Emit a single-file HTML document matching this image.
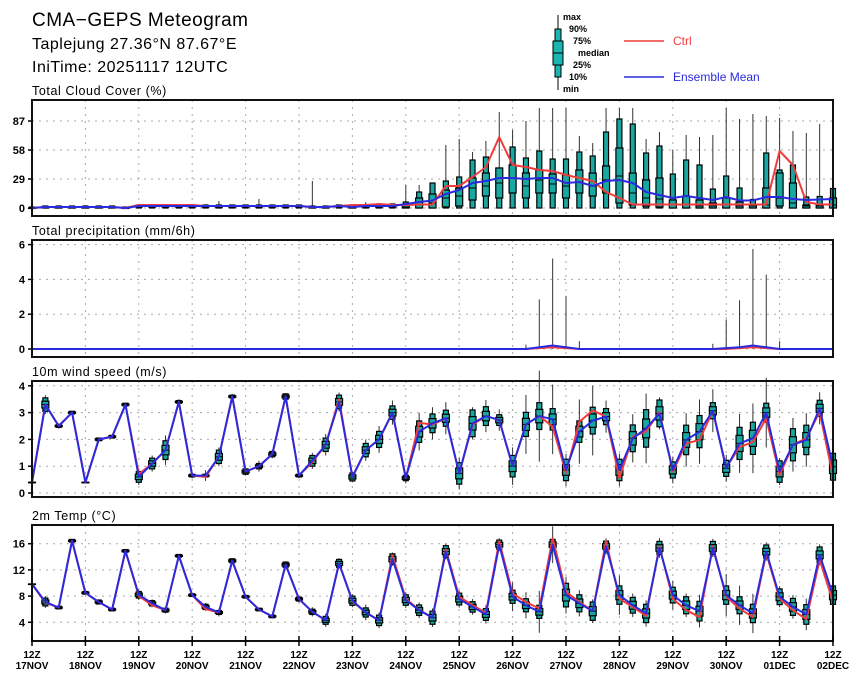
<!DOCTYPE html>
<html><head><meta charset="utf-8"><style>
body{margin:0;background:#fff;}
svg{display:block;font-family:"Liberation Sans",sans-serif;}
</style></head><body>
<svg id="chart" width="860" height="679" viewBox="0 0 860 679" xmlns="http://www.w3.org/2000/svg">
<rect width="860" height="679" fill="#fff"/>
<text x="32" y="26" font-size="19" fill="#000" letter-spacing="0.5">CMA−GEPS Meteogram</text>
<text x="32" y="49" font-size="16" fill="#000" letter-spacing="0.5">Taplejung 27.36°N 87.67°E</text>
<text x="32" y="72" font-size="16" fill="#000" letter-spacing="0.5">IniTime: 20251117 12UTC</text>
<g font-size="9" font-weight="bold">
<line x1="558" y1="15" x2="558" y2="90" stroke="#000" stroke-width="1"/>
<rect x="555" y="29" width="6" height="48" fill="#19b5b0" stroke="#000"/>
<rect x="553" y="41" width="10" height="24" fill="#19b5b0" stroke="#000"/>
<line x1="553" y1="53" x2="563" y2="53" stroke="#000"/>
<text x="563" y="20">max</text><text x="569" y="32">90%</text><text x="573" y="44">75%</text>
<text x="578" y="56">median</text><text x="573" y="68">25%</text><text x="569" y="80">10%</text><text x="563" y="92">min</text>
</g>
<g><line x1="624" y1="41" x2="664" y2="41" stroke="#f03c3c" stroke-width="1.5"/><text x="673" y="45" font-size="12" fill="#f03c3c">Ctrl</text></g>
<g><line x1="624" y1="77" x2="664" y2="77" stroke="#2a2ae0" stroke-width="1.5"/><text x="673" y="81" font-size="12" fill="#2a2ae0">Ensemble Mean</text></g>
<g id="plots"></g>
</svg>
<script>
// ---- data (61 six-hourly steps from 12Z 17NOV) ----
const dayLabels=["17NOV","18NOV","19NOV","20NOV","21NOV","22NOV","23NOV","24NOV","25NOV","26NOV","27NOV","28NOV","29NOV","30NOV","01DEC","02DEC"];
const cloudMean=[0,1,1,1,1,1,1,0,2,2,2,2,2,2,2,2,2,2,2,2,2,1,1,2,1,2,2,2,4,6,7.5,14,18,25,27,30,30,29,30,30,25,26,22,27,28,25,16,13,10,12,10,8,11,7.5,7.5,11,11,9,8,8.5,9];
const cloudCtrl=[0,1,1,1,1,1,1,0,3,3,3,3,3,2,2,2,2,2,2,2,2,1,1,2,3,3,4,3,3,3.5,3.5,22,22,31,41,71,43,41,38,37,33,30,27,16,10,3.5,3.5,3.5,3.5,3.5,3.5,3.5,3.5,3.5,3.5,3.5,57,43,6,3.5,3.5];
const cloudP90=[1,2,2,2,2,2,2,1,3,3,3,3,3,3,3,3,3,3,3,3,3,2,2,3,3,3,4,4,6,16,25,27,31,48,51,40,61,50,57,49,49,56,52,76,89,84,55,62,34,48,43,19,32,20,8.5,55,38,43,11,11.5,19.5];
const cloudMax=[1,2,2,2,2,2,2,1,3,3,3,3,3,3,7,3,3,9,3,3,3,27,2,3,3,6,4,4,23,23,25,63,69,56,67,96,78,87,100,100,100,72,65,100,100,100,69,76,58,73,71,73,100,89,94,92,90,77,75,84,60];
const cloudQ75=[0,1,1,1,1,1,1,0,2,2,2,2,2,2,2,2,2,2,2,2,2,1,1,2,2,2,3,3,3,10,14,18,20,30,35,40,43,35,38,34,33,38,35,42,60,35,28,30,8,12,8,5,10,6,3,20,35,25,3,3,10];
const cloudMed=[0,1,1,1,1,1,1,0,2,2,2,2,2,2,2,2,2,2,2,2,2,1,1,2,1,2,2,2,1,3,5,10,12,20,22,25,30,22,28,24,22,26,22,28,32,15,10,9,3,3,2,2,3,2,2,3,10,5,2,2,3];
const cloudQ25=[0,0,0,0,0,0,0,0,1,1,1,1,1,1,1,1,1,1,1,1,1,0,0,1,0,1,1,1,0,0,0,1,2,8,12,10,15,10,15,15,10,15,12,15,5,3,2,1,0,0,0,0,0,0,0,0,2,0,0,0,0];
const precMean=[0,0,0,0,0,0,0,0,0,0,0,0,0,0,0,0,0,0,0,0,0,0,0,0,0,0,0,0,0,0,0,0,0,0,0,0,0,0,0.1,0.2,0.1,0,0,0,0,0,0,0,0,0,0,0,0.05,0.1,0.2,0.1,0,0,0,0,0];
const precCtrl=[0,0,0,0,0,0,0,0,0,0,0,0,0,0,0,0,0,0,0,0,0,0,0,0,0,0,0,0,0,0,0,0,0,0,0,0,0,0,0.05,0.1,0.05,0,0,0,0,0,0,0,0,0,0,0,0,0.05,0.1,0.05,0,0,0,0,0];
const precMax=[0,0,0,0,0,0,0,0,0,0,0,0,0,0,0,0,0,0,0,0,0,0,0,0,0,0,0,0,0,0,0,0,0,0,0,0,0,0.25,2.85,5.2,3.05,0.45,0,0,0,0,0,0,0,0,0,0.3,1.7,2.8,5.75,4.27,0.45,0,0,0,0];
const windMean=[0.4,3.3,2.5,3.0,0.4,2.0,2.1,3.3,0.6,1.1,1.6,3.4,0.65,0.65,1.35,3.6,0.8,1.0,1.45,3.6,0.65,1.2,1.8,3.4,0.6,1.6,2.0,3.0,0.56,2.29,2.6,2.79,0.73,2.6,2.87,2.72,1.0,2.56,2.87,2.75,0.86,2.29,2.7,2.85,0.86,2.04,2.41,2.97,0.86,1.98,2.29,3.07,0.92,1.85,2.04,3.0,0.8,1.8,1.98,3.16,0.98];
const windCtrl=[0.4,3.3,2.5,3.0,0.4,2.0,2.1,3.3,0.7,1.1,1.6,3.4,0.65,0.6,1.35,3.6,0.8,1.0,1.45,3.6,0.65,1.15,1.8,3.5,0.6,1.6,2.0,3.0,0.56,2.62,2.55,2.79,0.73,2.55,2.87,2.72,1.0,2.56,2.87,2.48,0.75,2.66,3.08,2.85,0.55,2.1,2.3,3.02,0.8,1.85,1.98,3.07,0.95,1.72,1.9,2.79,0.67,1.8,2.04,3.03,0.61];
const windBox=[0,0.25,0.05,0.05,0,0.05,0.05,0.05,0.2,0.2,0.35,0.05,0.05,0.05,0.25,0.05,0.1,0.1,0.1,0.1,0.05,0.2,0.25,0.25,0.15,0.25,0.3,0.25,0.1,0.4,0.35,0.3,0.4,0.5,0.35,0.2,0.4,0.45,0.5,0.4,0.4,0.4,0.5,0.3,0.4,0.5,0.7,0.5,0.3,0.55,0.6,0.3,0.3,0.6,0.6,0.35,0.4,0.6,0.55,0.3,0.5];
const windWhisk=[0,0.35,0.1,0.05,0,0.05,0.05,0.05,0.3,0.3,0.55,0.1,0.1,0.2,0.35,0.1,0.15,0.2,0.15,0.1,0.1,0.3,0.4,0.35,0.2,0.4,0.5,0.45,0.2,0.7,0.6,0.6,0.6,0.6,0.6,0.4,0.7,1.1,1.7,1.3,0.6,1.2,1.3,0.6,0.6,0.9,1.3,0.6,0.5,1.0,1.2,0.8,0.5,1.1,1.3,1.3,0.5,1.0,1.0,0.6,0.5];
const tempMean=[9.85,7.1,6.25,16.45,8.5,7.1,5.95,14.9,8.2,6.9,5.85,14.15,8.15,6.35,5.5,13.4,7.9,5.95,4.9,12.8,7.55,5.6,4.3,13.0,7.3,5.5,4.3,13.65,7.4,5.85,4.7,14.8,7.55,6.35,5.2,15.85,7.9,6.6,5.6,15.85,8.15,6.9,5.7,15.6,8.15,6.6,5.35,15.35,8.15,6.6,5.7,15.35,8.15,6.6,5.35,14.8,7.9,6.35,5.2,14.3,8.15];
const tempCtrl=[9.85,7.0,6.25,16.45,8.5,7.1,5.95,14.9,8.0,6.6,5.85,14.15,8.15,6.0,5.5,13.4,7.9,5.95,4.9,12.8,7.55,5.6,4.3,13.0,7.2,5.5,4.3,14.2,7.6,5.9,4.7,15.1,7.9,6.6,5.45,16.35,8.4,7.1,6.1,16.85,8.65,7.1,5.7,16.35,7.6,6.35,5.0,15.6,7.6,5.85,4.8,15.6,7.9,6.1,4.8,14.55,7.6,5.85,4.45,13.55,7.1];
const tempBox=[0,0.6,0.2,0.2,0.2,0.3,0.2,0.2,0.5,0.4,0.3,0.2,0.2,0.4,0.3,0.3,0.2,0.2,0.2,0.4,0.3,0.4,0.6,0.6,0.7,0.7,0.8,0.8,0.8,0.8,1.0,0.9,0.9,0.8,0.9,0.7,1.0,1.0,1.0,0.8,1.8,1.3,1.4,0.8,1.4,1.2,1.4,1.0,1.2,1.3,1.5,1.0,1.4,1.3,1.4,1.0,1.2,1.3,1.5,1.2,1.4];
const tempWhisk=[0,0.9,0.3,0.3,0.2,0.4,0.3,0.3,0.8,0.6,0.5,0.3,0.3,0.6,0.6,0.4,0.3,0.3,0.3,0.5,0.5,0.7,1.0,0.8,1.0,1.2,1.2,1.0,1.2,1.2,1.4,1.2,1.3,1.2,1.4,1.0,2.2,2.0,3.2,2.8,2.8,2.0,1.8,1.2,3.0,1.8,2.0,1.5,2.2,1.8,2.5,1.4,3.2,3.0,3.0,1.4,1.6,1.8,2.4,1.6,1.5];
const cloudTicks=[0,29,58,87], precTicks=[0,2,4,6], windTicks=[0,1,2,3,4], tempTicks=[4,8,12,16];

const NS="http://www.w3.org/2000/svg";
const root=document.getElementById('plots');
const X0=32,X1=833,N=60;
const xs=i=>X0+(X1-X0)*i/N;
function mk(tag,attrs,parent){const e=document.createElementNS(NS,tag);for(const k in attrs)e.setAttribute(k,attrs[k]);(parent||root).appendChild(e);return e;}

function panel(name,title,top,bot,y0px,pxPer,ticks){
  const g=mk('g',{});
  
  
  const y=v=>y0px-v*pxPer;
  const t=mk('text',{x:32,y:top-5,'font-size':12.5,'letter-spacing':'0.6'},g);t.textContent=title;
  
  
  for(let d=1;d<15;d++){const gx=X0+53.4*d;const l=mk('line',{x1:gx,y1:top,x2:gx,y2:bot,stroke:'#aaa','stroke-dasharray':'2,5'},g);
    
    }
  ticks.forEach(v=>{const gl=mk('line',{x1:X0,y1:y(v),x2:X1,y2:y(v),stroke:'#aaa','stroke-dasharray':'2,5'},g);
    
    
    mk('line',{x1:X0-4,y1:y(v),x2:X0,y2:y(v),stroke:'#000','stroke-width':1.5},g);
    const tl=mk('text',{x:X0-7,y:y(v)+4,'text-anchor':'end','font-size':11,'font-weight':'bold'},g);tl.textContent=v;
    
    });
  return {g,y,top,bot};
}
function frame(p){const r=mk('rect',{x:X0,y:p.top,width:X1-X0,height:p.bot-p.top,fill:'none',stroke:'#111','stroke-width':2},p.g);
  
  }
function line(p,arr,color,name){const pts=arr.map((v,i)=>xs(i)+','+p.y(v)).join(' ');
  const l=mk('polyline',{points:pts,fill:'none',stroke:color,'stroke-width':2,'stroke-linejoin':'round'},p.g);
  
  }
function box(p,i,mn,p10,q25,med,q75,p90,mx){
  const x=xs(i);const g=mk('g',{},p.g);
  
  
  mk('line',{x1:x,y1:p.y(mx),x2:x,y2:p.y(mn),stroke:'#333','stroke-width':1},g);
  mk('rect',{x:x-2.5,y:p.y(p90),width:5,height:Math.max(0.5,p.y(p10)-p.y(p90)),fill:'#17a8a2',stroke:'#000','stroke-width':1.2},g);
  mk('rect',{x:x-3.5,y:p.y(q75),width:7,height:Math.max(0.5,p.y(q25)-p.y(q75)),fill:'#17a8a2',stroke:'#000','stroke-width':1.2},g);
  mk('line',{x1:x-3.5,y1:p.y(med),x2:x+3.5,y2:p.y(med),stroke:'#000','stroke-width':1},g);
}

// Panel 1 cloud
const p1=panel('cloud-panel','Total Cloud Cover (%)',100,216,208,1.0,cloudTicks);
for(let i=0;i<=N;i++)box(p1,i,0,0,cloudQ25[i],cloudMed[i],cloudQ75[i],cloudP90[i],cloudMax[i]);
line(p1,cloudCtrl,'#f03c3c','cloud-ctrl-line');line(p1,cloudMean,'#2a2ae0','cloud-mean-line');frame(p1);

// Panel 2 precip
const p2=panel('precip-panel','Total precipitation (mm/6h)',240,357,349,17.4,precTicks);
for(let i=0;i<=N;i++){if(precMax[i]>0){const w=mk('line',{x1:xs(i),y1:p2.y(precMax[i]),x2:xs(i),y2:p2.y(0),stroke:'#333','stroke-width':1},p2.g);
  
  }}
line(p2,precCtrl,'#f03c3c','precip-ctrl-line');line(p2,precMean,'#2a2ae0','precip-mean-line');frame(p2);

// Panel 3 wind
const p3=panel('wind-panel','10m wind speed (m/s)',381,497,493,26.8,windTicks);
for(let i=0;i<=N;i++){const m=windMean[i],b=windBox[i],w=windWhisk[i];box(p3,i,Math.max(0,m-w),m-b,m-b/2,m,m+b/2,m+b,m+w);}
line(p3,windCtrl,'#f03c3c','wind-ctrl-line');line(p3,windMean,'#2a2ae0','wind-mean-line');frame(p3);

// Panel 4 temp
const p4=panel('temp-panel','2m Temp (°C)',525,641,648.5,6.55,tempTicks);
for(let i=0;i<=N;i++){const m=tempMean[i],b=tempBox[i],w=tempWhisk[i];box(p4,i,m-w,m-b,m-b/2,m,m+b/2,m+b,m+w);}
line(p4,tempCtrl,'#f03c3c','temp-ctrl-line');line(p4,tempMean,'#2a2ae0','temp-mean-line');frame(p4);

// x axis
dayLabels.forEach((d,k)=>{const x=X0+(X1-X0)*k/15;
  mk('line',{x1:x,y1:636,x2:x,y2:646,stroke:'#000','stroke-width':1.5});
  const t1=mk('text',{x:x,y:658,'text-anchor':'middle','font-size':10,'font-weight':'bold'});t1.textContent='12Z';
  
  
  const t2=mk('text',{x:x,y:669,'text-anchor':'middle','font-size':10,'font-weight':'bold'});t2.textContent=d;
  
  
});
</script>
</body></html>
